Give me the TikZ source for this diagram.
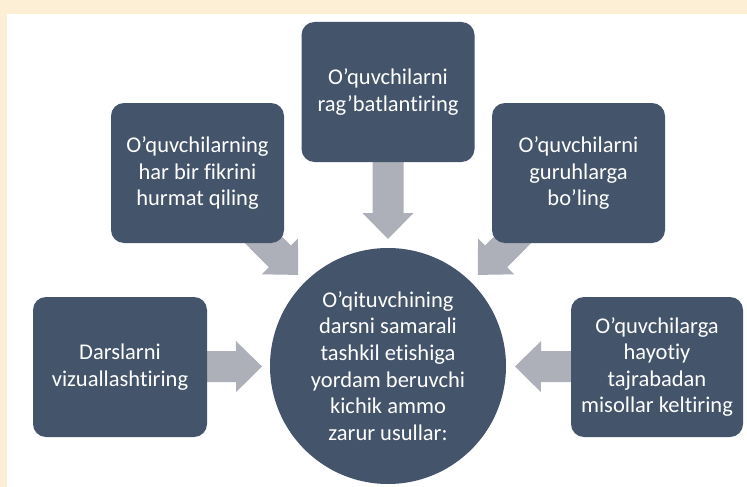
\documentclass[tikz,border=0pt]{standalone}
\usepackage{fontspec}
\setmainfont{Carlito}[Ligatures={NoCommon}, RawFeature={-liga;-clig}]
\usepackage{tikz}
\usetikzlibrary{calc, backgrounds}
\definecolor{slate}{HTML}{44546A}
\definecolor{arrowgray}{HTML}{ADB0B8}
\definecolor{cream}{HTML}{FCEFD6}
\tikzset{
  tipbox/.style={
    rectangle, rounded corners=13pt, fill=slate, text=white,
    align=center, minimum width=173pt, minimum height=140pt,
    font=\fontsize{22.5}{26.4}\selectfont
  },
  hub/.style={
    circle, fill=slate, text=white, align=center,
    minimum size=236pt, inner sep=0pt,
    font=\fontsize{22.5}{26.6}\selectfont
  }
}
% block arrow: shaft from #1, tip at #2
\newcommand{\blockarrow}[2]{%
  \coordinate (ah) at ($(#2)!26pt!(#1)$);
  \fill[arrowgray] ($(#1)!15.5pt!90:(#2)$) -- ($(ah)!15.5pt!90:(#2)$)
    -- ($(ah)!25.5pt!90:(#2)$) -- (#2) -- ($(ah)!25.5pt!-90:(#2)$)
    -- ($(ah)!15.5pt!-90:(#2)$) -- ($(#1)!15.5pt!-90:(#2)$) -- cycle;
}

\begin{document}
\begin{tikzpicture}[x=1pt, y=-1pt]
  \useasboundingbox (0,0) rectangle (747,487);

  \node[hub] (hub) at (388, 366) {O’qituvchining\\darsni samarali\\tashkil etishiga\\yordam beruvchi\\kichik ammo\\zarur usullar:};

  \node[tipbox] (praise) at (388, 92) {O’quvchilarni\\rag’batlantiring};
  \node[tipbox] (respect) at (197.5, 173) {O’quvchilarning\\har bir fikrini\\hurmat qiling};
  \node[tipbox] (groups) at (578.5, 173) {O’quvchilarni\\guruhlarga\\bo’ling};
  \node[tipbox, minimum width=174pt] (visual) at (120, 367) {Darslarni\\vizuallashtiring};
  \node[tipbox, minimum width=172pt] (examples) at (657, 367) {O’quvchilarga\\hayotiy\\tajrabadan\\misollar keltiring};

  \coordinate (tipP) at ($(hub.center)!127pt!(praise.center)$);
  \coordinate (tipR) at ($(hub.center)!128pt!(respect.center)$);
  \coordinate (tipG) at ($(hub.center)!128pt!(groups.center)$);
  \coordinate (tipV) at ($(hub.center)!126pt!(visual.center)$);
  \coordinate (tipE) at ($(hub.center)!127pt!(examples.center)$);

  \begin{scope}[on background layer]
    \fill[cream] (0,0) rectangle (747,487);
    \fill[white] (7,14) rectangle (747,487);
    \blockarrow{praise.center}{tipP}
    \blockarrow{respect.center}{tipR}
    \blockarrow{groups.center}{tipG}
    \blockarrow{visual.center}{tipV}
    \blockarrow{examples.center}{tipE}
  \end{scope}
\end{tikzpicture}
\end{document}
